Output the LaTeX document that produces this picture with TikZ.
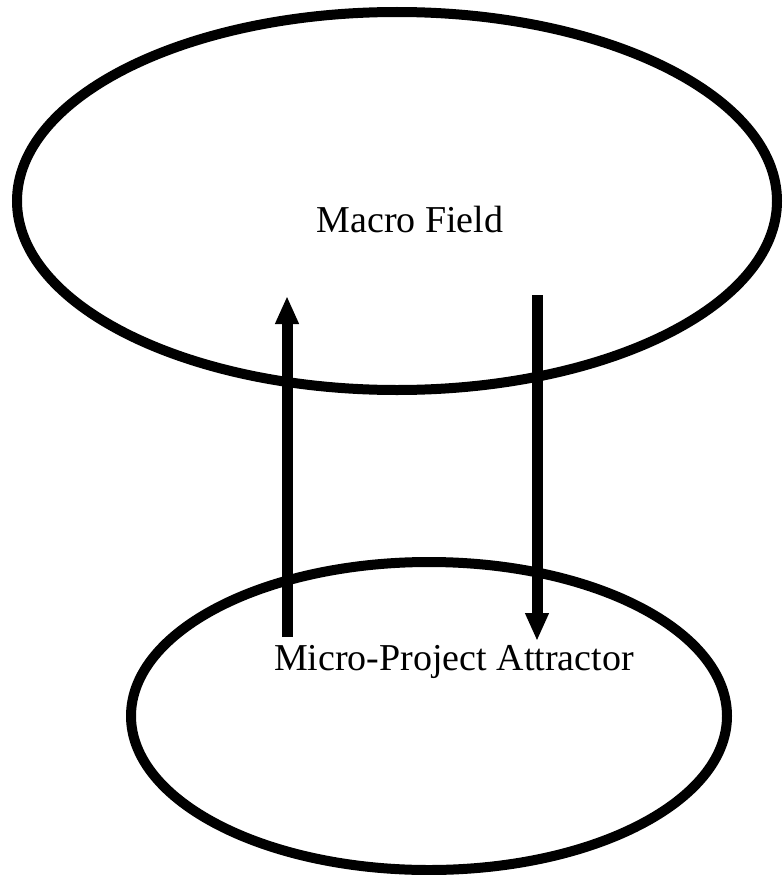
\documentclass[tikz,border=0pt]{standalone}
\usepackage{fontspec}
\setmainfont{Liberation Serif}
\usetikzlibrary{shapes.geometric, arrows.meta}

\begin{document}
\begin{tikzpicture}[
    x=1pt, y=-1pt,
    field/.style={draw, ellipse, line width=10pt, inner sep=0pt, outer sep=0pt},
    flow/.style={line width=11pt, -{Triangle[width=22pt 0 0, length=28pt 0 0]}},
    label/.style={font=\fontsize{38}{44}\selectfont, inner sep=0pt}
]
    \useasboundingbox (0,0) rectangle (783,875);
    \node[field, minimum width=760pt, minimum height=378pt] (macro) at (397,201) {};
    \node[field, minimum width=596pt, minimum height=308pt] (micro) at (429,716) {};
    \node[label] (macrotext) at (410,220) {Macro Field};
    \node[label] (microtext) at (454,662) {Micro-Project Attractor};
    \coordinate (upstart) at (287,637);
    \coordinate (upend) at (287,296);
    \coordinate (downstart) at (537,295);
    \coordinate (downend) at (537,641);
    \draw[flow] (upstart) -- (upend);
    \draw[flow] (downstart) -- (downend);
\end{tikzpicture}
\end{document}
